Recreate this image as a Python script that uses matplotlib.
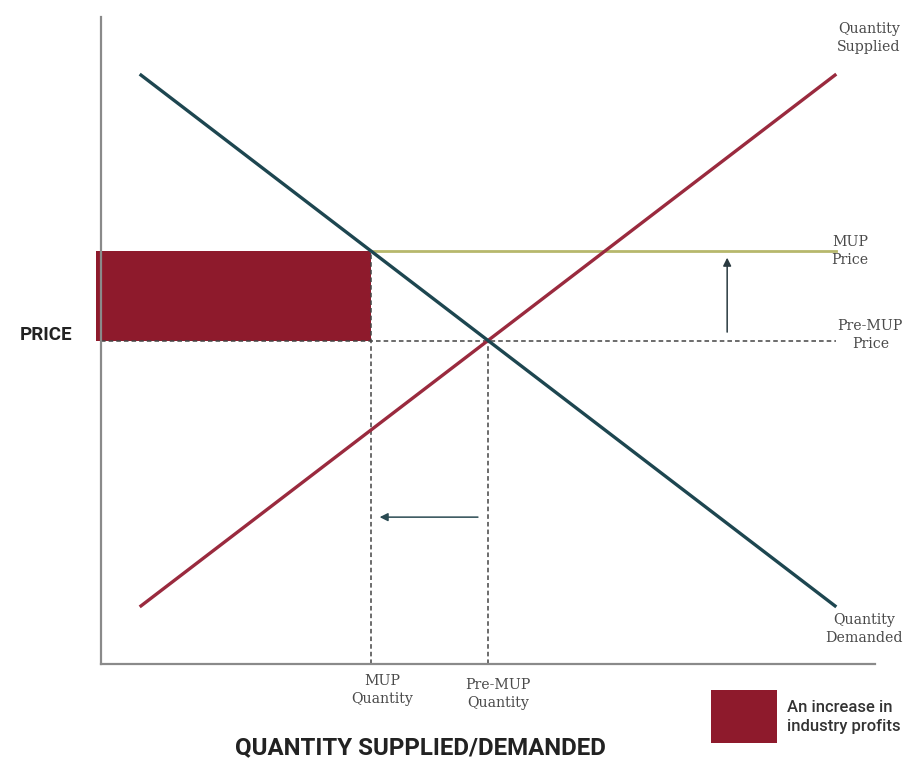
import numpy as np
import matplotlib
matplotlib.use("Agg")
import matplotlib.pyplot as plt

# Supply / demand model (arbitrary units)
quantity_range = [0.5, 9.5]
equilibrium = (5.0, 5.0)
slope = 0.915
mup_price = 6.38
mup_quantity = equilibrium[0] - (mup_price - equilibrium[1]) / slope

supply_label = ["Quantity", "Supplied"]
demand_label = ["Quantity", "Demanded"]
price_labels = ["MUP\nPrice", "Pre-MUP\nPrice"]
quantity_labels = ["MUP\nQuantity", "Pre-MUP\nQuantity"]
legend_text = "An increase in\nindustry profits"

RED = "#8e1a2c"
SUPPLY = "#9a2a3e"
DEMAND = "#1d4650"
MUP = "#b7b86c"
AXIS = "#8a8a8a"
DASH = "#444444"

sans = "Roboto"
serif = "DejaVu Serif"

fig = plt.figure(figsize=(9.04, 7.65), dpi=100)
ax = fig.add_axes([101 / 904, 101 / 765, 774 / 904, 647 / 765])
ax.set_xlim(0, 10)
ax.set_ylim(0, 10)
for s in ["top", "right"]:
    ax.spines[s].set_visible(False)
for s in ["left", "bottom"]:
    ax.spines[s].set_color(AXIS)
    ax.spines[s].set_linewidth(1.6)
ax.set_xticks([])
ax.set_yticks([])

q = np.array(quantity_range)
demand = equilibrium[1] - slope * (q - equilibrium[0])
supply = equilibrium[1] + slope * (q - equilibrium[0])

# profit rectangle
ax.fill_between([-0.06, mup_quantity], equilibrium[1], mup_price,
                color=RED, lw=0, clip_on=False, zorder=1)

# reference lines
ax.plot([0, q[1]], [equilibrium[1]] * 2, ls=(0, (3, 2)), color=DASH, lw=1.1, zorder=2)
ax.plot([mup_quantity] * 2, [0, mup_price], ls=(0, (3, 2)), color=DASH, lw=1.1, zorder=2)
ax.plot([equilibrium[0]] * 2, [0, equilibrium[1]], ls=(0, (3, 2)), color=DASH, lw=1.1, zorder=2)
ax.plot([mup_quantity, q[1]], [mup_price] * 2, color=MUP, lw=2.0, zorder=2)

ax.plot(q, supply, color=SUPPLY, lw=2.4, zorder=3, solid_capstyle="butt")
ax.plot(q, demand, color=DEMAND, lw=2.4, zorder=4, solid_capstyle="butt")

# arrows
ax.annotate("", xy=(8.09, 6.28), xytext=(8.09, 5.13),
            arrowprops=dict(arrowstyle="-|>", color="#2a3a40", lw=1.1,
                            mutation_scale=12, shrinkA=0, shrinkB=0))
ax.annotate("", xy=(3.60, 2.27), xytext=(4.87, 2.27),
            arrowprops=dict(arrowstyle="-|>", color="#2a4a52", lw=1.1,
                            mutation_scale=12, shrinkA=0, shrinkB=0))

tk = dict(fontsize=10.2, family=serif, color="#4a4a4a", linespacing=1.38,
          ha="center", va="center", multialignment="center")
ax.text(9.92, 9.68, "\n".join(supply_label), **tk)
ax.text(9.68, mup_price, price_labels[0], **tk)
ax.text(9.94, equilibrium[1] + 0.09, price_labels[1], **tk)
ax.text(9.86, 0.54, "\n".join(demand_label), **tk)
ax.text(mup_quantity + 0.14, -0.40, quantity_labels[0], **tk)
ax.text(equilibrium[0] + 0.13, -0.47, quantity_labels[1], **tk)

fig.text(46 / 904, 1 - 335 / 765, "PRICE", ha="center", va="center",
         family=sans, fontsize=13.5, fontweight="bold", color="#222222")
fig.text(420 / 904, 1 - 748 / 765, "QUANTITY SUPPLIED/DEMANDED", ha="center", va="center",
         family=sans, fontsize=17.3, fontweight="bold", color="#222222")

# legend swatch
fig.patches.append(plt.Rectangle((711 / 904, 1 - 743 / 765), 66 / 904, 53 / 765,
                                 transform=fig.transFigure, color=RED, lw=0))
fig.text(787 / 904, 1 - 717 / 765, legend_text, ha="left", va="center",
         family=sans, fontsize=12, fontweight="medium", color="#333333", linespacing=1.4)

fig.savefig("out.png", dpi=100, facecolor="white")
